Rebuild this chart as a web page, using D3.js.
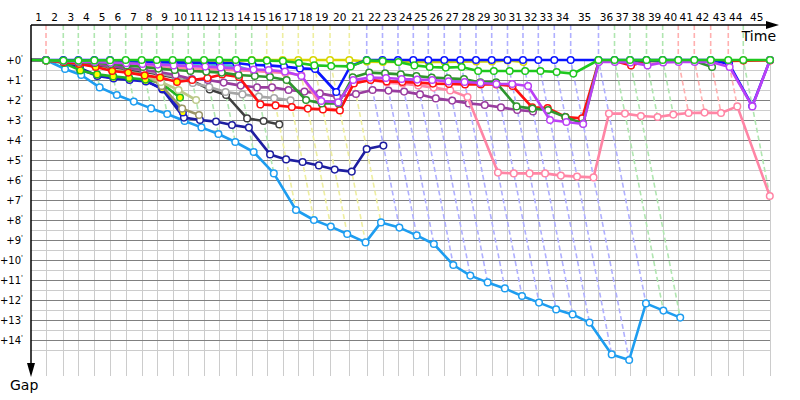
<!DOCTYPE html>
<html>
<head>
<meta charset="utf-8">
<script src="https://cdn.jsdelivr.net/npm/d3@7"></script>
<style>
    body { margin: 0; background: #fff; }
    svg { display: block; font-family: "DejaVu Sans", sans-serif; }
</style>
</head>
<body>
<svg width="800" height="400"></svg>
<script>
// leader's elapsed time (minutes) at the end of each lap, index 0 = start
var lapTimes = [0, 3.85, 8.28, 12.13, 16.23, 20.26, 24.28, 28.38, 32.23, 36.33, 40.33,
    44.36, 48.28, 52.49, 56.59, 60.44, 64.54, 68.54, 72.38, 76.67, 81.62,
    86.08, 90.13, 94.10, 98.03, 101.87, 105.97, 110.08, 114.10, 118.13, 122.18,
    126.15, 130.08, 134.18, 138.38, 145.51, 149.62, 153.59, 157.82, 161.97, 165.97,
    170.08, 174.28, 178.79, 182.64, 189.49];

// extra time grid line inside the long lap 35
var extraGridTimes = [141.8];

// track status of each lap (lap 1..45)
var lapFlags = ["red",
    "green", "green", "green", "green", "green", "green", "green", "green", "green", "green", "green", "green", "green",
    "yellow", "yellow", "yellow", "yellow", "yellow", "yellow",
    "blue", "blue", "blue", "blue", "blue", "blue", "blue", "blue", "blue", "blue", "blue", "blue", "blue", "blue", "blue",
    "green", "green", "green", "green",
    "red", "red", "red", "red",
    "green", ""];

// gap to the leader in minutes, index = lap
var gapGreen = [0, 0.02, 0.03, 0.03, 0.02, 0.01, 0, 0, 0, 0, 0, 0, 0, 0,
    0.02, 0.03, 0.05, 0.15, 0.27, 0.3, 0.32,
    0.02, 0.05, 0.1, 0.27, 0.35, 0.38, 0.35, 0.55, 0.55, 0.55, 0.55, 0.55, 0.6, 0.68,
    0, 0, 0, 0, 0, 0, 0, 0, 0, 0, 0];
var gapBlue = [0, 0, 0, 0, 0, 0,
    0.05, 0.08, 0.1, 0.12, 0.13, 0.14, 0.15, 0.15, 0.25, 0.27, 0.33, 0.42, 0.45, 1.6, 0.3,
    0, 0, 0, 0, 0, 0, 0, 0, 0, 0, 0, 0, 0, 0, 0, 0, 0, 0, 0, 0, 0, 0,
    0.2, 2.3, 0];
var gapYellow = [0, 0.02, 0.03, 0.05, 0.05, 0.06, 0.07, 0.07, 0.08, 0.08,
    0.05, 0.05, 0.05, 0.05, 0, 0, 0, 0, 0, 0, 0,
    0.08, 0.1, 0.1, 0.1, 0.1, 0.1, 0.08, 0.07, 0.07, 0.02, 0.1];
var gapDarkGreen = [0, 0.02, 0.05, 0.1, 0.15, 0.2, 0.27, 0.35, 0.43, 0.5,
    0.55, 0.58, 0.63, 0.75, 0.8, 0.85, 1.0, 2.0, 2.17, 2.17,
    0.87, 0.63, 0.67, 0.72, 0.8, 0.88, 0.92, 0.95, 1.12, 1.12,
    2.32, 2.43, 2.5, 2.85, 3.18, 0.07, 0.05, 0.05, 0.05, 0.05,
    0.05, 0.05, 0.35];
var gapRed = [0, 0.02, 0.1, 0.2, 0.35, 0.55, 0.63, 0.77, 0.88, 1.1,
    1.0, 0.9, 0.72, 0.85, 2.22, 2.27, 2.35, 2.43, 2.47, 2.52,
    1.17, 1.0, 1.07, 1.1, 1.13, 1.18, 1.2, 1.22, 1.22, 1.22,
    1.3, 2.37, 2.4, 2.85, 2.92, 0.08, 0.05, 0.27, 0.05, 0.05,
    0.05, 0.05, 0.05, 0.05, 0.03, 0.02];
var gapViolet = [0, 0.02, 0.05, 0.08, 0.1, 0.13, 0.16, 0.2, 0.23, 0.27,
    0.3, 0.33, 0.37, 0.42, 0.48, 0.5, 0.58, 0.8, 2.05, 2.12,
    1.0, 0.88, 0.9, 0.95, 0.98, 1.0, 1.07, 1.1, 1.15, 1.2,
    1.2, 1.3, 3.0, 3.1, 3.2, 0.1, 0.1, 0.12, 0.27, 0.12,
    0.1, 0.1, 0.1, 0.35, 2.32, 0];
var gapPurple = [0, 0.02, 0.08, 0.15, 0.22, 0.3, 0.4, 0.5, 0.6, 0.75,
    0.95, 1.0, 1.13, 1.28, 1.37, 1.37, 1.5, 1.58, 1.67, 1.83,
    1.7, 1.5, 1.53, 1.58, 1.72, 1.92, 2.03, 2.17, 2.25, 2.37,
    2.5, 2.57];
var gapPink = [0, 0.02, 0.05, 0.1, 0.15, 0.2, 0.25, 0.3, 0.35, 0.4,
    0.42, 0.45, 0.48, 0.52, 0.55, 0.6, 0.65, 0.75, 2.4, 2.5,
    1.15, 1.0, 1.13, 1.18, 1.27, 1.38, 1.52, 1.85, 5.63, 5.67,
    5.67, 5.67, 5.78, 5.83, 5.87, 2.68, 2.68, 2.8, 2.85, 2.73,
    2.65, 2.63, 2.65, 2.32, 6.8];
var gapLightBlue = [0, 0, 0.45, 0.75, 1.37, 1.75, 2.08, 2.42, 2.7, 3.05,
    3.37, 3.7, 4.1, 4.6, 5.67, 7.5, 8.0, 8.33, 8.7, 9.12,
    8.12, 8.38, 8.77, 9.2, 10.25, 10.78, 11.12, 11.42, 11.8, 12.13,
    12.47, 12.72, 13.13, 14.72, 15.0, 12.17, 12.53, 12.88];
var gapNavy = [0, 0.02, 0.1, 0.4, 0.78, 0.88, 0.95, 1.03, 1.47, 2.88,
    3.0, 3.08, 3.25, 3.38, 4.72, 4.97, 5.1, 5.27, 5.48, 5.58,
    4.45, 4.28];
var gapBlue2 = [0, 0.02, 0.1, 0.47, 0.8, 0.92, 1.0, 1.07, 1.42, 2.62];
var gapBlack = [0, 0.02, 0.08, 0.15, 0.25, 0.35, 0.45, 0.58, 0.72, 0.9,
    1.05, 1.47, 1.75, 2.92, 3.05, 3.22];
var gapGray = [0, 0.02, 0.07, 0.13, 0.2, 0.3, 0.4, 0.52, 0.68, 0.85,
    1.15, 1.35, 1.6, 1.72, 1.83, 1.9, 2.02];
var gapOlive = [0, 0.02, 0.08, 0.13, 0.2, 0.35, 0.5, 0.68, 1.3, 2.43, 2.75];
var gapLightOlive = [0, 0.02, 0.1, 0.2, 0.3, 0.45, 0.6, 0.78, 1.1, 1.5, 2.0];
var gapGreen2 = [0, 0.02, 0.15, 0.52, 0.72, 0.82, 0.9, 0.98, 1.15, 1.88];
var gapCyan = [0, 0.01, 0.03, 0.05, 0.07, 0.09, 0.11, 0.13, 0.15, 0.17,
    0.18, 0.2, 0.27, 0.3, 0.57];

var gapTicks = d3.range(0, 15);

// drawing order: first one ends up at the bottom
var series = [
    { gaps: gapLightBlue, color: "#1e9df0" },
    { gaps: gapNavy, color: "#1e1ea0" },
    { gaps: gapBlue2, color: "#1b1bd0", marked: [1, 9] },
    { gaps: gapGreen2, color: "#22b522", marked: [1, 9] },
    { gaps: gapOlive, color: "#9a9466", marked: [1, 4] },
    { gaps: gapLightOlive, color: "#bcc98a" },
    { gaps: gapBlack, color: "#404040" },
    { gaps: gapGray, color: "#a6a6a6" },
    { gaps: gapCyan, color: "#3ccaca" },
    { gaps: gapPurple, color: "#993d9f" },
    { gaps: gapPink, color: "#ff85a5" },
    { gaps: gapRed, color: "#ff1010", marked: [1, 9] },
    { gaps: gapDarkGreen, color: "#2e952e" },
    { gaps: gapYellow, color: "#d6d600" },
    { gaps: gapBlue, color: "#0a14ff" },
    { gaps: gapViolet, color: "#bb40f5" },
    { gaps: gapGreen, color: "#1ec81e" }
];

var flagColor = { red: "#ffb0b0", green: "#b0e6b0", yellow: "#eeeea0", blue: "#b0b0ff" };

var svg = d3.select("svg");

var x = d3.scaleLinear()
    .domain([0, lapTimes[lapTimes.length - 1]])
    .range([31, 770]);
var y = d3.scaleLinear()
    .domain([0, 15.8])
    .range([60, 376]);
var axisY = y(-1.75);

// grid
var grid = svg.append("g").attr("shape-rendering", "crispEdges");
grid.selectAll("line.v")
    .data(lapTimes.slice(1).concat(extraGridTimes))
    .enter()
    .append("line")
    .attr("x1", function (d) { return Math.round(x(d)) + 0.5; })
    .attr("x2", function (d) { return Math.round(x(d)) + 0.5; })
    .attr("y1", y(0))
    .attr("y2", y.range()[1])
    .attr("stroke", "#cccccc");
grid.selectAll("line.minor")
    .data(gapTicks)
    .enter()
    .append("line")
    .attr("x1", x(0))
    .attr("x2", x.range()[1])
    .attr("y1", function (d) { return Math.round(y(d + 0.5)) + 0.5; })
    .attr("y2", function (d) { return Math.round(y(d + 0.5)) + 0.5; })
    .attr("stroke", "#cccccc");
grid.selectAll("line.major")
    .data(gapTicks)
    .enter()
    .append("line")
    .attr("x1", x(0))
    .attr("x2", x.range()[1])
    .attr("y1", function (d) { return Math.round(y(d)) + 0.5; })
    .attr("y2", function (d) { return Math.round(y(d)) + 0.5; })
    .attr("stroke", "#808080");

// lap lines: where each lap was completed, from the leader down to the last car
var lapLines = d3.range(1, lapTimes.length).filter(function (k) { return lapFlags[k - 1]; });
svg.append("g")
    .selectAll("path")
    .data(lapLines)
    .enter()
    .append("path")
    .attr("fill", "none")
    .attr("stroke", function (k) { return flagColor[lapFlags[k - 1]]; })
    .attr("stroke-width", 1.6)
    .attr("stroke-dasharray", "5,3")
    .attr("d", function (k) {
        var t = lapTimes[k];
        var g = d3.max(series, function (s) { return s.gaps[k]; });
        return "M" + x(t) + "," + axisY + "L" + x(t) + "," + y(0) +
            "L" + x(t + g) + "," + y(g);
    });

var line = d3.line()
    .x(function (g, i) { return x(lapTimes[i] + g); })
    .y(function (g) { return y(g); });

var cars = svg.append("g")
    .selectAll("g")
    .data(series)
    .enter()
    .append("g");

cars.append("path")
    .attr("fill", "none")
    .attr("stroke", function (s) { return s.color; })
    .attr("stroke-width", 2.6)
    .attr("stroke-linejoin", "round")
    .attr("d", function (s) { return line(s.gaps); });

cars.each(function (s) {
    var pts = s.gaps.map(function (g, i) { return { lap: i, gap: g }; }).slice(1);
    d3.select(this).selectAll("circle")
        .data(pts)
        .enter()
        .append("circle")
        .attr("cx", function (d) { return x(lapTimes[d.lap] + d.gap); })
        .attr("cy", function (d) { return y(d.gap); })
        .attr("r", 3.3)
        .attr("fill", function (d) {
            if (s.marked && d.lap >= s.marked[0] && d.lap <= s.marked[1]) {
                return "#ffff00";
            }
            return "#ffffff";
        })
        .attr("stroke", s.color)
        .attr("stroke-width", 1.5);
});

// top axis (time) with lap numbers
svg.append("line")
    .attr("x1", x(0)).attr("x2", 768)
    .attr("y1", axisY).attr("y2", axisY)
    .attr("stroke", "#000").attr("stroke-width", 1.5);
svg.append("path")
    .attr("d", "M766,21L779,25L766,29Z")
    .attr("fill", "#000");
svg.append("text")
    .attr("x", 776).attr("y", 41)
    .attr("text-anchor", "end")
    .attr("font-size", 14)
    .text("Time");

svg.append("g")
    .selectAll("text")
    .data(d3.range(1, lapTimes.length))
    .enter()
    .append("text")
    .attr("x", function (k) { return x((lapTimes[k - 1] + lapTimes[k]) / 2); })
    .attr("y", 21)
    .attr("text-anchor", "middle")
    .attr("font-size", 10.5)
    .text(function (k) { return k; });

// left axis (gap)
svg.append("line")
    .attr("x1", x(0)).attr("x2", x(0))
    .attr("y1", axisY).attr("y2", 366)
    .attr("stroke", "#000").attr("stroke-width", 1.5);
svg.append("path")
    .attr("d", "M27,363L31,377L35,363Z")
    .attr("fill", "#000");
svg.append("text")
    .attr("x", 10).attr("y", 390)
    .attr("font-size", 14)
    .text("Gap");

var yLabels = svg.append("g")
    .selectAll("text")
    .data(gapTicks)
    .enter()
    .append("text")
    .attr("x", 23)
    .attr("y", function (d) { return y(d) + 4; })
    .attr("text-anchor", "end")
    .attr("font-size", 10)
    .text(function (d) { return "+" + d; });
yLabels.append("tspan")
    .attr("font-size", 7)
    .attr("dy", -4)
    .text("'");
</script>
</body>
</html>
